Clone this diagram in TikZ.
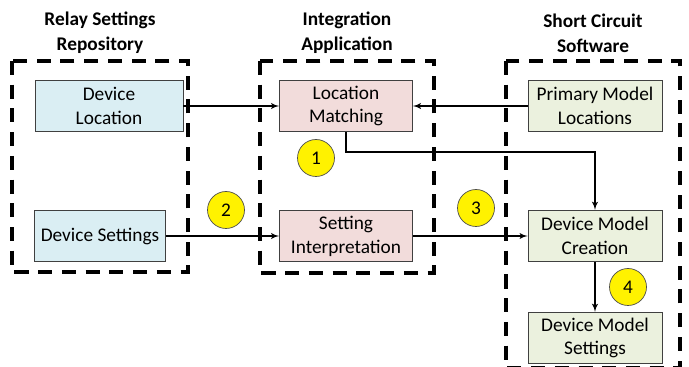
\documentclass[tikz,border=0pt]{standalone}
\usepackage{fontspec}
\setmainfont{Carlito}
\usetikzlibrary{arrows,positioning}

\definecolor{repoblue}{HTML}{DAEEF3}
\definecolor{intpink}{HTML}{F2DCDB}
\definecolor{scgreen}{HTML}{EBF1DE}

\tikzset{
  block/.style={draw=black!75,line width=0.5pt,align=center,minimum height=1.03cm,inner sep=2pt},
  repo/.style={block,fill=repoblue},
  integ/.style={block,fill=intpink,minimum width=2.66cm},
  scsw/.style={block,fill=scgreen,minimum width=2.68cm},
  group/.style={line width=1.8pt,dash pattern=on 8pt off 5.5pt},
  title/.style={align=center,font=\fontsize{11}{14}\selectfont\bfseries},
  stepnum/.style={circle,draw=black!70,fill=yellow,line width=0.4pt,minimum size=0.74cm,inner sep=0pt}
}

\begin{document}
\begin{tikzpicture}[x=0.02cm,y=-0.02cm,->,>=latex',semithick,font=\fontsize{11}{13.6}\selectfont]
		\useasboundingbox (0,0) rectangle (689,367);
		% groups
		\draw[group,-] (12,61) rectangle (188,272);
		\draw[group,-] (260,61) rectangle (434,273);
		\draw[group,-] (506,61) rectangle (680,368);
		\node[title]                     (tRepo)  at (100,33)      {Relay Settings\\Repository};
		\node[title]                     (tInt)   at (347,33)      {Integration\\Application};
		\node[title]                     (tSC)    at (593,33)      {Short Circuit\\Software};
		% blocks
		\node[repo,minimum width=2.96cm] (DL)     at (109,106)     {Device\\Location};
		\node[repo,minimum width=2.62cm] (DS)     at (100,236)     {Device Settings};
		\node[integ]                     (LM)     at (346,106)     {Location\\Matching};
		\node[integ]                     (SI)     at (346,236)     {Setting\\Interpretation};
		\node[scsw]                      (PML)    at (595,106)     {Primary Model\\Locations};
		\node[scsw]                      (DMC)    at (595,236)     {Device Model\\Creation};
		\node[scsw]                      (DMS)    at (595,338)     {Device Model\\Settings};
		% steps
		\node[stepnum]                   (n1)     at (316,158)     {1};
		\node[stepnum]                   (n2)     at (226,210)     {2};
		\node[stepnum]                   (n3)     at (476,208)     {3};
		\node[stepnum]                   (n4)     at (628,287)     {4};
		\coordinate                      (bend)   at (595,152);

		\path (DL)   edge                 (LM)
		      (PML)  edge                 (LM)
		      (DS)   edge                 (SI)
		      (SI)   edge                 (DMC)
		      (DMC)  edge                 (DMS);
		\draw (LM.south) |- (bend) -- (DMC.north);
\end{tikzpicture}
\end{document}
